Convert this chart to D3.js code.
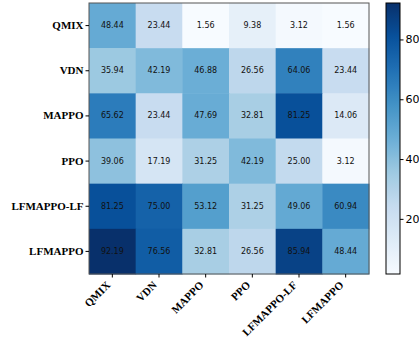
<!DOCTYPE html>
<html>
<head>
<meta charset="utf-8">
<script src="https://cdn.jsdelivr.net/npm/d3@7"></script>
<style>
  html, body { margin: 0; padding: 0; background: #fff; }
  svg { display: block; }
</style>
</head>
<body>
<svg id="chart" width="419" height="344"></svg>
<script>
// Row and column labels (same algorithms on both axes)
const rowLabels = ["QMIX", "VDN", "MAPPO", "PPO", "LFMAPPO-LF", "LFMAPPO"];
const colLabels = ["QMIX", "VDN", "MAPPO", "PPO", "LFMAPPO-LF", "LFMAPPO"];

// Cell values, one array per row
const rowQMIX      = [48.44, 23.44, 1.56, 9.38, 3.12, 1.56];
const rowVDN       = [35.94, 42.19, 46.88, 26.56, 64.06, 23.44];
const rowMAPPO     = [65.62, 23.44, 47.69, 32.81, 81.25, 14.06];
const rowPPO       = [39.06, 17.19, 31.25, 42.19, 25.00, 3.12];
const rowLFMAPPOLF = [81.25, 75.00, 53.12, 31.25, 49.06, 60.94];
const rowLFMAPPO   = [92.19, 76.56, 32.81, 26.56, 85.94, 48.44];

// Colorbar tick values
const colorbarTicks = [20, 40, 60, 80];

const matrix = [rowQMIX, rowVDN, rowMAPPO, rowPPO, rowLFMAPPOLF, rowLFMAPPO];
const cells = [];
matrix.forEach((row, i) => row.forEach((v, j) => cells.push({ r: rowLabels[i], c: colLabels[j], v })));

const allVals = cells.map(d => d.v);
const vmin = d3.min(allVals), vmax = d3.max(allVals);

// Piecewise-linear "Blues" palette
const blues = ["#f7fbff", "#deebf7", "#c6dbef", "#9ecae1", "#6baed6", "#4292c6", "#2171b5", "#08519c", "#08306b"];
const color = d3.scaleLinear()
  .domain(blues.map((_, i) => vmin + (vmax - vmin) * i / (blues.length - 1)))
  .range(blues)
  .interpolate(d3.interpolateRgb)
  .clamp(true);

const svg = d3.select("#chart");
const plot = { left: 89, top: 3, width: 280, height: 271 };

const x = d3.scaleBand().domain(colLabels).range([plot.left, plot.left + plot.width]);
const y = d3.scaleBand().domain(rowLabels).range([plot.top, plot.top + plot.height]);

// Heatmap cells
svg.append("g").selectAll("rect")
  .data(cells)
  .join("rect")
  .attr("x", d => x(d.c))
  .attr("y", d => y(d.r))
  .attr("width", x.bandwidth() + 0.5)
  .attr("height", y.bandwidth() + 0.5)
  .attr("fill", d => color(d.v));

// Value annotations
svg.append("g").selectAll("text")
  .data(cells)
  .join("text")
  .attr("x", d => x(d.c) + x.bandwidth() / 2)
  .attr("y", d => y(d.r) + y.bandwidth() / 2)
  .attr("text-anchor", "middle")
  .attr("dominant-baseline", "central")
  .attr("font-family", "DejaVu Sans")
  .attr("font-size", 8)
  .attr("fill", "#111")
  .text(d => d.v.toFixed(2));

// Frame
svg.append("rect")
  .attr("x", plot.left).attr("y", plot.top)
  .attr("width", plot.width).attr("height", plot.height)
  .attr("fill", "none").attr("stroke", "#555").attr("stroke-width", 1);

// Y axis
const yAxis = svg.append("g")
  .attr("transform", `translate(${plot.left},0)`)
  .call(d3.axisLeft(y).tickSize(3.5).tickPadding(2));
yAxis.select(".domain").remove();
yAxis.selectAll("line").attr("stroke", "#000");
yAxis.selectAll("text")
  .attr("font-family", "Liberation Serif, Times New Roman, serif")
  .attr("font-weight", "bold")
  .attr("font-size", 11)
  .attr("fill", "#000");

// X axis, labels rotated 45 degrees and right-aligned under each tick
const xAxis = svg.append("g")
  .attr("transform", `translate(0,${plot.top + plot.height})`)
  .call(d3.axisBottom(x).tickSize(3.5).tickPadding(2));
xAxis.select(".domain").remove();
xAxis.selectAll("line").attr("stroke", "#000");
xAxis.selectAll("text")
  .attr("font-family", "Liberation Serif, Times New Roman, serif")
  .attr("font-weight", "bold")
  .attr("font-size", 11)
  .attr("fill", "#000")
  .attr("text-anchor", "end")
  .attr("x", 0)
  .attr("y", 0)
  .attr("dy", "0.35em")
  .attr("transform", "translate(-4,9) rotate(-45)");

// Colorbar
const cb = { left: 386, width: 14, top: 3, height: 271 };
const cbScale = d3.scaleLinear().domain([vmin, vmax]).range([cb.top + cb.height, cb.top]);

const defs = svg.append("defs");
const grad = defs.append("linearGradient")
  .attr("id", "cbgrad")
  .attr("x1", 0).attr("y1", 1).attr("x2", 0).attr("y2", 0);
d3.range(0, 1.0001, 0.02).forEach(t => {
  grad.append("stop")
    .attr("offset", t)
    .attr("stop-color", color(vmin + t * (vmax - vmin)));
});

svg.append("rect")
  .attr("x", cb.left).attr("y", cb.top)
  .attr("width", cb.width).attr("height", cb.height)
  .attr("fill", "url(#cbgrad)")
  .attr("stroke", "#000").attr("stroke-width", 1);

const cbAxis = svg.append("g")
  .attr("transform", `translate(${cb.left + cb.width},0)`)
  .call(d3.axisRight(cbScale).tickValues(colorbarTicks).tickSize(3.5).tickPadding(2));
cbAxis.select(".domain").remove();
cbAxis.selectAll("line").attr("stroke", "#000");
cbAxis.selectAll("text")
  .attr("font-family", "DejaVu Sans")
  .attr("font-size", 11)
  .attr("fill", "#000");
</script>
</body>
</html>
